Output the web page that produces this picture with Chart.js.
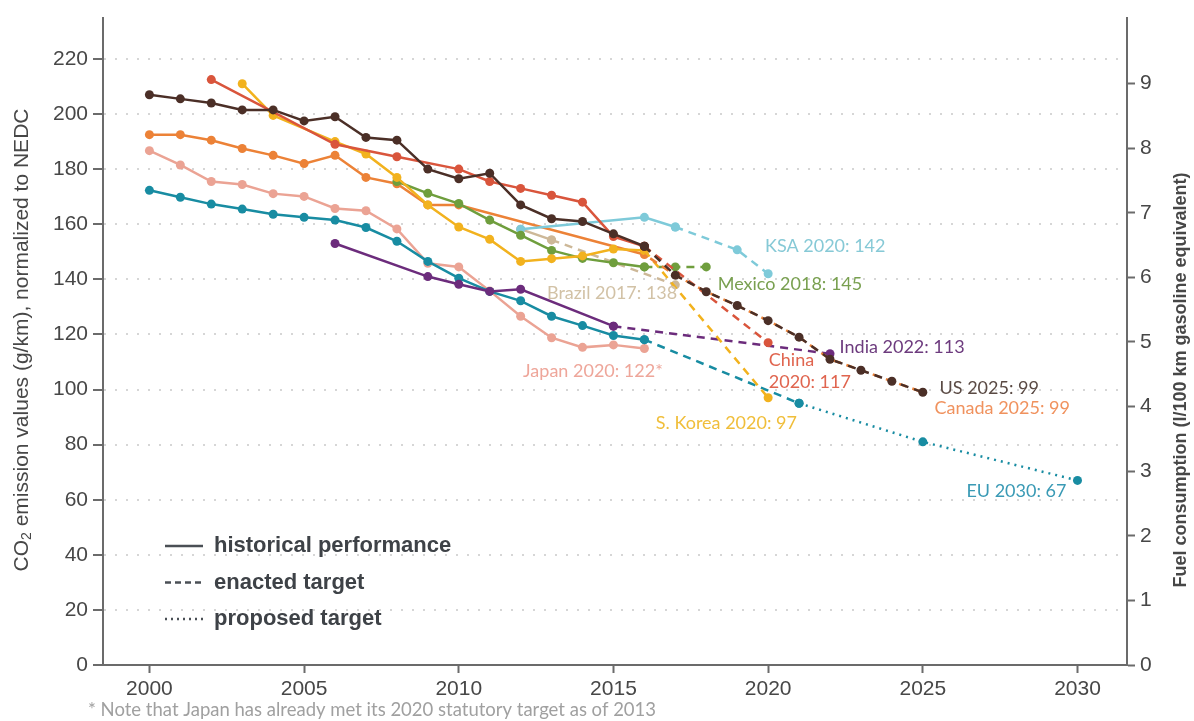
<!DOCTYPE html>
<html>
<head>
<meta charset="utf-8">
<title>Passenger car CO2 emissions and fuel consumption</title>
<script src="https://cdn.jsdelivr.net/npm/chart.js@4.4.1/dist/chart.umd.min.js"></script>
<style>
  html, body { margin: 0; padding: 0; background: #fff; }
  #wrap { width: 1194px; height: 721px; }
</style>
</head>
<body>
<div id="wrap"><canvas id="chart" width="1194" height="721"></canvas></div>
<script>
// Values (g/km, NEDC)
const xTicks = [2000, 2005, 2010, 2015, 2020, 2025, 2030];
const yTicks = [0, 20, 40, 60, 80, 100, 120, 140, 160, 180, 200, 220];
const fuelTicks = [0, 1, 2, 3, 4, 5, 6, 7, 8, 9];
const gPerLitre = 23.45; // 1 l/100 km gasoline ~ 23.45 g/km

const usYears = [2000, 2001, 2002, 2003, 2004, 2005, 2006, 2007, 2008, 2009, 2010, 2011, 2012, 2013, 2014, 2015, 2016];
const usHist = [207, 205.5, 204, 201.5, 201.5, 197.5, 199, 191.5, 190.5, 180, 176.5, 178.5, 167, 162, 161, 156.5, 152];
const usTargetYears = [2016, 2017, 2018, 2019, 2020, 2021, 2022, 2023, 2024, 2025];
const usTarget = [152, 141.5, 135.5, 130.5, 125, 119, 111, 107, 103, 99];

const canadaYears = [2000, 2001, 2002, 2003, 2004, 2005, 2006, 2007, 2008, 2009, 2010, 2016];
const canadaHist = [192.5, 192.5, 190.5, 187.5, 185, 182, 185, 177, 174.7, 167, 167, 149];
const canadaTarget = [149, 141.5, 135.5, 130.5, 125, 119, 111, 107, 103, 99];

const chinaYears = [2002, 2006, 2008, 2010, 2011, 2012, 2013, 2014, 2015, 2016];
const chinaHist = [212.5, 189, 184.5, 180, 175.5, 173, 170.5, 168, 155.5, 152];
const chinaTargetYears = [2016, 2020];
const chinaTarget = [152, 117];

const koreaYears = [2003, 2004, 2006, 2007, 2008, 2009, 2010, 2011, 2012, 2013, 2014, 2015, 2016];
const koreaHist = [211, 199.5, 190, 185.5, 177, 167, 159, 154.5, 146.5, 147.5, 148.5, 151, 150.5];
const koreaTargetYears = [2016, 2020];
const koreaTarget = [150.5, 97];

const japanYears = [2000, 2001, 2002, 2003, 2004, 2005, 2006, 2007, 2008, 2009, 2010, 2011, 2012, 2013, 2014, 2015, 2016];
const japanHist = [186.7, 181.5, 175.5, 174.4, 171.1, 170.1, 165.7, 164.9, 158.3, 145.8, 144.5, 135.8, 126.6, 118.8, 115.3, 116.2, 114.9];

const euYears = [2000, 2001, 2002, 2003, 2004, 2005, 2006, 2007, 2008, 2009, 2010, 2011, 2012, 2013, 2014, 2015, 2016];
const euHist = [172.3, 169.8, 167.3, 165.5, 163.6, 162.5, 161.5, 158.8, 153.8, 146.5, 140.4, 135.6, 132.2, 126.6, 123.2, 119.6, 118.1];
const euTargetYears = [2016, 2021];
const euTarget = [118.1, 95];
const euProposedYears = [2021, 2025, 2030];
const euProposed = [95, 81, 67];

const indiaYears = [2006, 2009, 2010, 2011, 2012, 2015];
const indiaHist = [153, 141, 138.2, 135.6, 136.4, 123];
const indiaTargetYears = [2015, 2022];
const indiaTarget = [123, 113];

const mexicoYears = [2008, 2009, 2010, 2011, 2012, 2013, 2014, 2015, 2016];
const mexicoHist = [175.5, 171.2, 167.5, 161.5, 156, 150.5, 147.6, 146, 144.5];
const mexicoTargetYears = [2016, 2017, 2018];
const mexicoTarget = [144.5, 144.5, 144.5];

const ksaYears = [2012, 2016, 2017];
const ksaHist = [158.2, 162.5, 159];
const ksaTargetYears = [2017, 2019, 2020];
const ksaTarget = [159, 150.7, 142];

const brazilYears = [2012, 2013];
const brazilHist = [158.2, 154.3];
const brazilTargetYears = [2013, 2017];
const brazilTarget = [154.3, 138];

// end-of-line labels: [text, color, year, value]
const endLabels = [
  ['KSA 2020: 142', '#86c9d6', 2019.9, 152.2],
  ['Mexico 2018: 145', '#79a050', 2018.37, 138.2],
  ['Brazil 2017: 138', '#d2c2a6', 2012.85, 135],
  ['India 2022: 113', '#6d3b7e', 2022.31, 115.2],
  ['China', '#e0654f', 2020.02, 110.6],
  ['2020: 117', '#e0654f', 2020.02, 102.7],
  ['Japan 2020: 122*', '#eea69a', 2012.08, 106.6],
  ['US 2025: 99', '#5a4a44', 2025.54, 100.5],
  ['Canada 2025: 99', '#f0925e', 2025.38, 93.3],
  ['S. Korea 2020: 97', '#f0be3a', 2016.37, 87.6],
  ['EU 2030: 67', '#3a9ab5', 2026.41, 63.2]
];

const colors = {
  us: '#4b2f27', canada: '#ec8237', china: '#d9553c', korea: '#f2b21e', japan: '#eba394',
  eu: '#188ca2', india: '#6c2c7c', mexico: '#6f9e3d', ksa: '#7ecad9', brazil: '#cdb898'
};

const axisColor = '#6b6b6b';
const textColor = '#474747';
const DASH = [8, 6];
const DOT = [2, 5];

function pts(years, values) {
  return years.map((y, i) => ({ x: y, y: values[i] }));
}

function series(years, values, color, dash, radius) {
  return {
    data: pts(years, values),
    borderColor: color,
    backgroundColor: color,
    pointBackgroundColor: color,
    borderDash: dash || [],
    pointRadius: radius === undefined ? 4.5 : radius,
    pointBorderWidth: 0,
    borderWidth: 2.5,
    tension: 0
  };
}

const datasets = [
  series(usYears, usHist, colors.us),
  series(usTargetYears, usTarget, colors.us, DASH),
  Object.assign(series(usTargetYears, canadaTarget, colors.canada, DASH, 0), { borderDashOffset: 7 }),
  series(chinaYears, chinaHist, colors.china),
  series(chinaTargetYears, chinaTarget, colors.china, DASH),
  series(koreaYears, koreaHist, colors.korea),
  series(koreaTargetYears, koreaTarget, colors.korea, DASH),
  series(mexicoYears, mexicoHist, colors.mexico),
  series(mexicoTargetYears, mexicoTarget, colors.mexico, DASH),
  series(ksaYears, ksaHist, colors.ksa),
  series(ksaTargetYears, ksaTarget, colors.ksa, DASH),
  series(brazilYears, brazilHist, colors.brazil),
  series(brazilTargetYears, brazilTarget, colors.brazil, DASH),
  series(canadaYears, canadaHist, colors.canada),
  series(indiaYears, indiaHist, colors.india),
  series(indiaTargetYears, indiaTarget, colors.india, DASH),
  series(euYears, euHist, colors.eu),
  series(euTargetYears, euTarget, colors.eu, DASH),
  series(euProposedYears, euProposed, colors.eu, DOT),
  series(japanYears, japanHist, colors.japan)
];

// labels, legend, axis titles and footnote
const annotate = {
  id: 'annotate',
  afterDraw(chart) {
    const ctx = chart.ctx;
    const x = chart.scales.x, y = chart.scales.y;
    ctx.save();

    // end labels
    ctx.font = '18px Lato';
    ctx.textAlign = 'left';
    ctx.textBaseline = 'middle';
    endLabels.forEach(([txt, col, yr, val]) => {
      ctx.fillStyle = col;
      ctx.fillText(txt, x.getPixelForValue(yr), y.getPixelForValue(val));
    });

    // legend
    const legend = [['historical performance', []], ['enacted target', [6, 4]], ['proposed target', [2, 4]]];
    legend.forEach(([txt, dash], i) => {
      const ly = 546 + i * 36.5;
      ctx.strokeStyle = '#4a4f55';
      ctx.lineWidth = 2.5;
      ctx.setLineDash(dash);
      ctx.beginPath();
      ctx.moveTo(165, ly);
      ctx.lineTo(203, ly);
      ctx.stroke();
      ctx.setLineDash([]);
      ctx.fillStyle = '#3e4247';
      ctx.font = 'bold 22px "Liberation Sans"';
      ctx.fillText(txt, 214, ly);
    });

    // left title with subscript
    ctx.save();
    ctx.translate(22, 340);
    ctx.rotate(-Math.PI / 2);
    ctx.fillStyle = textColor;
    ctx.textBaseline = 'middle';
    const big = '21px "Liberation Sans"', small = '14px "Liberation Sans"';
    const parts = [['CO', big, 0], ['2', small, 5], [' emission values (g/km), normalized to NEDC', big, 0]];
    let total = 0;
    parts.forEach(p => { ctx.font = p[1]; total += ctx.measureText(p[0]).width; });
    let px = -total / 2;
    parts.forEach(p => {
      ctx.font = p[1];
      ctx.fillText(p[0], px, p[2]);
      px += ctx.measureText(p[0]).width;
    });
    ctx.restore();

    // right title
    ctx.save();
    ctx.translate(1181, 380);
    ctx.rotate(-Math.PI / 2);
    ctx.fillStyle = textColor;
    ctx.font = 'bold 18px "Liberation Sans"';
    ctx.textAlign = 'center';
    ctx.textBaseline = 'middle';
    ctx.fillText('Fuel consumption (l/100 km gasoline equivalent)', 0, 0);
    ctx.restore();

    // footnote
    ctx.fillStyle = '#a0a0a0';
    ctx.font = '18.5px Lato';
    ctx.textAlign = 'left';
    ctx.fillText('* Note that Japan has already met its 2020 statutory target as of 2013', 88, 710);
    ctx.restore();
  }
};

const tickFont = { family: 'Liberation Sans', size: 21 };

new Chart(document.getElementById('chart'), {
  type: 'line',
  data: { datasets: datasets },
  options: {
    responsive: false,
    animation: false,
    layout: { padding: { top: 10, left: 0, right: 0, bottom: 0 } },
    plugins: { legend: { display: false }, tooltip: { enabled: false } },
    scales: {
      x: {
        type: 'linear',
        min: 1998.5,
        max: 2031.6,
        afterFit: s => { s.height = 56; },
        afterBuildTicks: s => { s.ticks = xTicks.map(v => ({ value: v })); },
        grid: { drawOnChartArea: false, tickLength: 8, tickColor: axisColor, tickWidth: 2 },
        border: { color: axisColor, width: 2 },
        ticks: { color: textColor, font: tickFont, padding: 4, maxRotation: 0, callback: v => String(v) }
      },
      y: {
        position: 'left',
        min: 0,
        max: 235,
        afterFit: s => { s.width = 103; },
        afterBuildTicks: s => { s.ticks = yTicks.map(v => ({ value: v })); },
        grid: { color: '#d6d6d6', lineWidth: 2, tickLength: 10, tickColor: axisColor, tickWidth: 2 },
        border: { color: axisColor, width: 2, dash: [2, 9] },
        ticks: { color: textColor, font: tickFont, padding: 5, callback: v => String(v) }
      },
      fuel: {
        position: 'right',
        min: 0,
        max: 235 / gPerLitre,
        afterFit: s => { s.width = 67; },
        afterBuildTicks: s => { s.ticks = fuelTicks.map(v => ({ value: v })); },
        grid: { drawOnChartArea: false, tickLength: 8, tickColor: axisColor, tickWidth: 2 },
        border: { color: axisColor, width: 2 },
        ticks: { color: textColor, font: tickFont, padding: 5, callback: v => String(v) }
      }
    }
  },
  plugins: [annotate]
});
</script>
</body>
</html>
